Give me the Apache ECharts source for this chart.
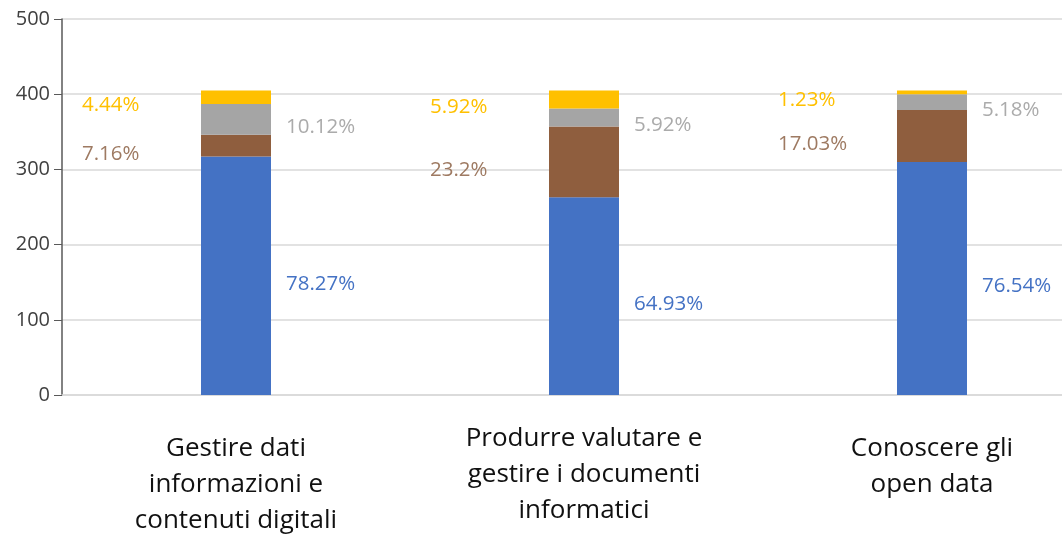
<!DOCTYPE html>
<html>
<head>
<meta charset="utf-8">
<script src="https://cdn.jsdelivr.net/npm/echarts@6/dist/echarts.min.js"></script>
<style>
  html, body { margin: 0; padding: 0; background: #fff; }
  #chart { width: 1062px; height: 536px; }
</style>
</head>
<body>
<div id="chart"></div>
<script>
// categorie e valori (stimati dalla figura)
const categories = [
  "Gestire dati\ninformazioni e\ncontenuti digitali",
  "Produrre valutare e\ngestire i documenti\ninformatici",
  "Conoscere gli\nopen data"
];
const blueValues = [317, 263, 310];
const brownValues = [29, 94, 69];
const grayValues = [41, 24, 21];
const yellowValues = [18, 24, 5];

const bluePct = ["78.27%", "64.93%", "76.54%"];
const brownPct = ["7.16%", "23.2%", "17.03%"];
const grayPct = ["10.12%", "5.92%", "5.18%"];
const yellowPct = ["4.44%", "5.92%", "1.23%"];

const yTicks = { min: 0, max: 500, interval: 100 };

const font = "'Open Sans', 'Noto Sans', sans-serif";

// etichetta a destra della barra
function rightLabel(texts, color) {
  return {
    show: true,
    position: "right",
    distance: 15,
    offset: [0, 8],
    color: color,
    fontFamily: font,
    fontSize: 20.5,
    formatter: (p) => texts[p.dataIndex],
  };
}
// etichetta a sinistra, allineata a sinistra
function leftLabel(texts, color) {
  return {
    show: true,
    position: "insideLeft",
    distance: 0,
    offset: [-119, 8],
    align: "left",
    color: color,
    fontFamily: font,
    fontSize: 20.5,
    formatter: (p) => texts[p.dataIndex],
  };
}

const chart = echarts.init(document.getElementById("chart"));

// la seconda etichetta di categoria sta un po' più in alto
const xData = categories.map((c, i) =>
  i === 1 ? { value: c, textStyle: { padding: [-10, 0, 0, 0] } } : c
);

const options = {
  animation: false,
  grid: {
    left: 62,
    width: 1044, // l'area del grafico esce a destra, come nell'originale
    top: 19,
    bottom: 141,
    outerBoundsMode: "none",
    containLabel: false,
  },
  xAxis: {
    type: "category",
    data: xData,
    axisLine: { lineStyle: { color: "#d9d9d9", width: 1.5 } },
    axisTick: { show: false },
    axisLabel: {
      interval: 0,
      margin: 36,
      color: "#111",
      fontFamily: font,
      fontSize: 26,
      lineHeight: 36,
    },
  },
  yAxis: {
    type: "value",
    min: yTicks.min,
    max: yTicks.max,
    interval: yTicks.interval,
    axisLine: { show: true, lineStyle: { color: "#595959", width: 1.5 } },
    axisTick: { show: true, length: 8, lineStyle: { color: "#595959" } },
    axisLabel: {
      margin: 12,
      color: "#404040",
      fontFamily: font,
      fontSize: 20,
    },
    splitLine: { lineStyle: { color: "#d9d9d9", width: 1.5 } },
  },
  series: [
    {
      name: "blu",
      type: "bar",
      stack: "tot",
      barWidth: 70,
      data: blueValues,
      itemStyle: { color: "#4472C4" },
      label: rightLabel(bluePct, "#4472C4"),
    },
    {
      name: "marrone",
      type: "bar",
      stack: "tot",
      data: brownValues,
      itemStyle: { color: "#8F5E3E" },
      label: leftLabel(brownPct, "#9E7A62"),
    },
    {
      name: "grigio",
      type: "bar",
      stack: "tot",
      data: grayValues,
      itemStyle: { color: "#A5A5A5" },
      label: rightLabel(grayPct, "#ABABAB"),
    },
    {
      name: "giallo",
      type: "bar",
      stack: "tot",
      data: yellowValues,
      itemStyle: { color: "#FFC000" },
      label: leftLabel(yellowPct, "#FFC000"),
    },
  ],
};

chart.setOption(options);
window.addEventListener("resize", () => chart.resize());
</script>
</body>
</html>
